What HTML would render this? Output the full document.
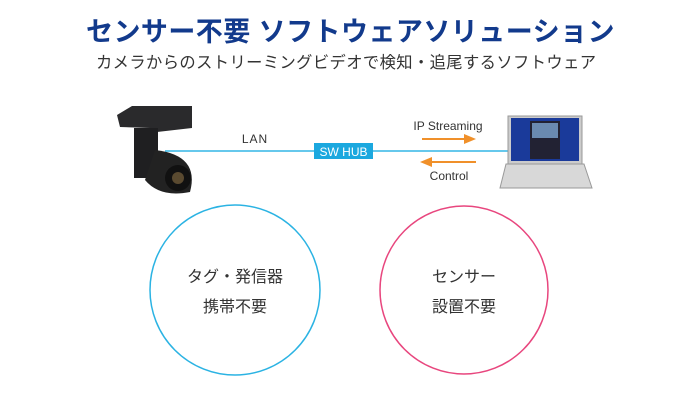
<!DOCTYPE html>
<html><head><meta charset="utf-8"><style>
body{margin:0;width:700px;height:400px;background:#fff;position:relative;overflow:hidden;font-family:"Liberation Sans","Noto Sans CJK JP",sans-serif}
.a{position:absolute;white-space:nowrap}
</style></head><body>
<div class="a" style="left:86px;top:10px;font-size:27px;font-weight:bold;color:#123a8c;letter-spacing:0.45px">センサー不要 ソフトウェアソリューション</div>
<div class="a" style="left:96px;top:49px;font-size:16.3px;color:#333;letter-spacing:0.4px">カメラからのストリーミングビデオで検知・追尾するソフトウェア</div>
<svg class="a" style="left:0;top:0" width="700" height="400">
<line x1="165" y1="151" x2="515" y2="151" stroke="#33b5e5" stroke-width="1.5"/>
<rect x="314" y="143" width="59" height="16" fill="#1ba8df"/>
<text x="343.5" y="156" font-size="12" fill="#fff" text-anchor="middle" font-family="Liberation Sans">SW HUB</text>
<text x="255" y="143" font-size="12" fill="#333" text-anchor="middle" font-family="Liberation Sans" letter-spacing="1">LAN</text>
<text x="448" y="130" font-size="12" fill="#333" text-anchor="middle" font-family="Liberation Sans">IP Streaming</text>
<text x="449" y="180" font-size="12" fill="#333" text-anchor="middle" font-family="Liberation Sans">Control</text>
<line x1="422" y1="139" x2="465" y2="139" stroke="#f0902a" stroke-width="2"/>
<polygon points="476,139 464,134 464,144" fill="#f0902a"/>
<line x1="432" y1="162" x2="476" y2="162" stroke="#f0902a" stroke-width="2"/>
<polygon points="420,162 432,157 432,167" fill="#f0902a"/>
<path d="M117,115 L132,106 L192,106 L192,128 L157,132 L150,128 L120,127 Z" fill="#2a2a2c"/>
<rect x="134" y="128" width="24" height="50" fill="#1f1f21"/>
<path d="M155,150 Q200,155 190,192 Q160,198 145,180 Z" fill="#222"/>
<circle cx="178" cy="178" r="13" fill="#111"/>
<circle cx="178" cy="178" r="6" fill="#5a4a30"/>
<rect x="508" y="116" width="74" height="48" fill="#ccc" stroke="#999"/>
<rect x="511" y="118" width="68" height="43" fill="#1a3a9a"/>
<rect x="530" y="121" width="30" height="38" fill="#223"/>
<rect x="532" y="123" width="26" height="15" fill="#6a8ab0"/>
<polygon points="506,164 584,164 592,188 500,188" fill="#d8d8d8" stroke="#999"/>
<circle cx="235" cy="290" r="85" fill="none" stroke="#2bb3e3" stroke-width="1.5"/>
<circle cx="464" cy="290" r="84" fill="none" stroke="#e8467e" stroke-width="1.5"/>
</svg>
<div class="a" style="left:185px;top:263px;width:100px;text-align:center;font-size:16px;line-height:30px;color:#333">タグ・発信器<br>携帯不要</div>
<div class="a" style="left:414px;top:263px;width:100px;text-align:center;font-size:16px;line-height:30px;color:#333">センサー<br>設置不要</div>
</body></html>
